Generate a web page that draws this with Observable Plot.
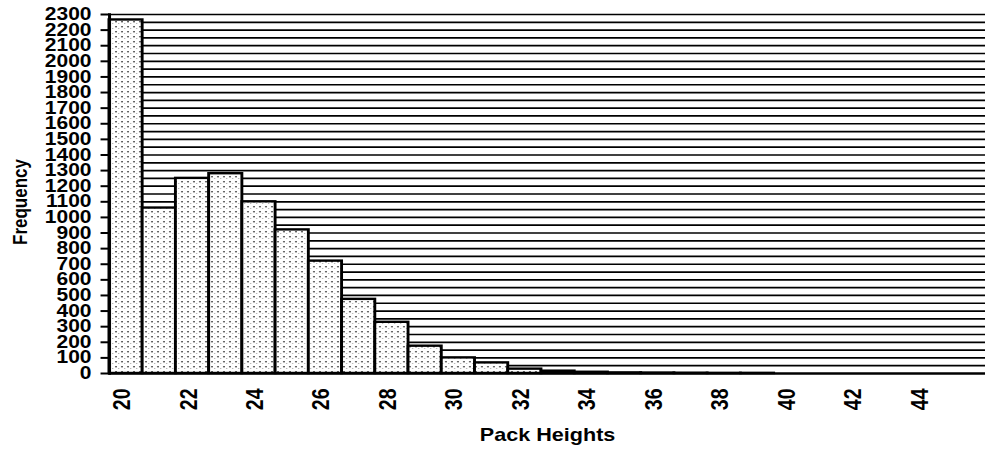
<!DOCTYPE html>
<html>
<head>
<meta charset="utf-8">
<script src="https://cdn.jsdelivr.net/npm/d3@7"></script>
<script src="https://cdn.jsdelivr.net/npm/@observablehq/plot@0.6"></script>
<style>
  html, body { margin: 0; padding: 0; background: #fff; overflow: hidden; }
  svg { display: block; }
</style>
</head>
<body>
<div id="chart"></div>
<script>
// Pack heights (categories) and their frequencies
const heights = [20, 21, 22, 23, 24, 25, 26, 27, 28, 29, 30, 31, 32, 33, 34, 35, 36, 37, 38, 39, 40, 41, 42, 43, 44, 45];
const frequencies = [2265, 1060, 1250, 1280, 1100, 920, 720, 475, 328, 175, 100, 68, 28, 15, 8, 4, 3, 2, 1, 1, 0, 0, 0, 0, 0, 0];

// Tick labels
const xTickLabels = [20, 22, 24, 26, 28, 30, 32, 34, 36, 38, 40, 42, 44];
const yTickLabels = [0, 100, 200, 300, 400, 500, 600, 700, 800, 900, 1000, 1100, 1200, 1300, 1400, 1500, 1600, 1700, 1800, 1900, 2000, 2100, 2200, 2300];
// Horizontal gridlines every 50
const gridLines = [50, 100, 150, 200, 250, 300, 350, 400, 450, 500, 550, 600, 650, 700, 750, 800, 850, 900, 950, 1000, 1050, 1100, 1150, 1200, 1250, 1300, 1350, 1400, 1450, 1500, 1550, 1600, 1650, 1700, 1750, 1800, 1850, 1900, 1950, 2000, 2050, 2100, 2150, 2200, 2250, 2300];

const xTitle = "Pack Heights";
const yTitle = "Frequency";

const data = heights.map((h, i) => ({h, f: frequencies[i]}));

const font = "'Liberation Sans', Arial, Helvetica, sans-serif";

// The reference is horizontally stretched (~1.2x); draw at a narrower
// internal width and stretch the SVG to 985px.
const W = 985, H = 451, SX = 1.2;
const innerW = Math.round(W / SX);

const svg = Plot.plot({
  width: innerW,
  height: H,
  marginLeft: 90.8,
  marginRight: 0,
  marginTop: 14,
  marginBottom: 78,
  style: {fontFamily: font, background: "#fff", color: "#000"},
  x: {type: "band", domain: heights, paddingInner: 0, paddingOuter: 0.18, align: 0, round: false},
  y: {domain: [0, 2300], nice: false},
  marks: [
    Plot.ruleY(gridLines, {stroke: "#000", strokeWidth: 1.7}),
    Plot.barY(data, {x: "h", y: "f", fill: "url(#dots)", stroke: "#000", strokeWidth: 2.4}),
    Plot.ruleY([0], {stroke: "#000", strokeWidth: 2.6}),
    Plot.frame({anchor: "left", stroke: "#000", strokeWidth: 2.5}),
    Plot.axisY({
      ticks: yTickLabels, tickFormat: d => String(d), tickSize: 7, tickPadding: 8,
      fontSize: 17.5, fontWeight: "bold", label: null, strokeWidth: 2
    }),
    Plot.axisX({
      ticks: xTickLabels, tickFormat: d => String(d), tickSize: 0, tickPadding: 15,
      tickRotate: -90, lineAnchor: "middle", textAnchor: "end", dx: -3,
      fontSize: 19.5, fontWeight: "bold", label: null
    }),
    Plot.text([yTitle], {frameAnchor: "left", dx: -74, dy: 8, rotate: -90, text: d => d,
      textAnchor: "middle", lineAnchor: "middle",
      fontSize: 17, fontWeight: "bold", fill: "#000", letterSpacing: "2.2px"}),
    Plot.text([xTitle], {frameAnchor: "bottom", dy: 62, text: d => d,
      textAnchor: "middle", lineAnchor: "middle",
      fontSize: 18, fontWeight: "bold", fill: "#000"})
  ]
});

// stipple pattern used as the bar fill
const defs = d3.select(svg).insert("defs", ":first-child");
const pat = defs.append("pattern")
  .attr("id", "dots").attr("patternUnits", "userSpaceOnUse")
  .attr("width", 5).attr("height", 5);
pat.append("rect").attr("width", 5).attr("height", 5).attr("fill", "#fff");
pat.append("rect").attr("x", 1).attr("y", 1).attr("width", 1.4).attr("height", 1.4).attr("fill", "#444");
pat.append("rect").attr("x", 3.5).attr("y", 3).attr("width", 0.9).attr("height", 0.9).attr("fill", "#999");

// stretch horizontally to the final size
svg.setAttribute("viewBox", `0 0 ${innerW} ${H}`);
svg.setAttribute("width", W);
svg.setAttribute("height", H);
svg.setAttribute("preserveAspectRatio", "none");
svg.style.width = W + "px";
svg.style.height = H + "px";
svg.style.maxWidth = "none";

document.getElementById("chart").appendChild(svg);
</script>
</body>
</html>
